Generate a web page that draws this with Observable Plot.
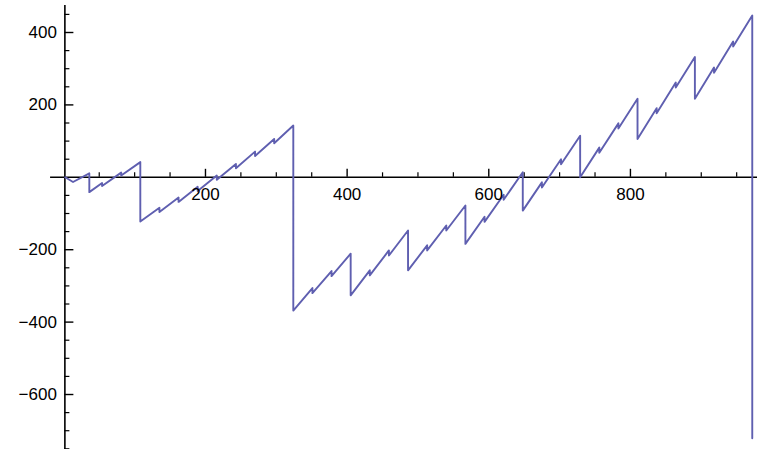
<!DOCTYPE html>
<html>
<head>
<meta charset="utf-8">
<script src="https://cdn.jsdelivr.net/npm/d3@7"></script>
<script src="https://cdn.jsdelivr.net/npm/@observablehq/plot@0.6"></script>
<style>
  html, body { margin: 0; padding: 0; background: #fff; }
</style>
</head>
<body>
<div id="chart"></div>
<script>
// Vertices of the sawtooth curve
const xs = [2,13,36,36,54,54,81,81,108,108,135,135,162,162,189,189,216,216,243,243,270,270,297,297,324,324,351,351,378,378,405,405,432,432,459,459,486,486,513,513,540,540,567,567,594,594,621,621,648,648,675,675,702,702,729,729,756,756,783,783,810,810,837,837,864,864,891,891,918,918,945,945,972,972];
const ys = [0,-13,11,-41,-16,-24,13,5,42,-122,-84,-96,-56,-68,-26,-38,5,-7,37,25,71,59,106,94,143,-368,-306,-320,-259,-273,-211,-326,-257,-271,-202,-216,-147,-257,-188,-202,-133,-147,-78,-184,-109,-123,-48,-62,14,-92,-14,-28,50,36,115,0,82,68,149,135,217,106,191,177,262,248,332,217,303,289,375,361,447,-721];

// Axis ticks
const xMajorTicks = [200, 400, 600, 800];
const xMinorTicks = [50, 100, 150, 250, 300, 350, 450, 500, 550, 650, 700, 750, 850, 900, 950];
const yMajorTicks = [-600, -400, -200, 200, 400];
const yMinorTicks = [-750, -700, -650, -550, -500, -450, -350, -300, -250, -150, -100, -50, 50, 100, 150, 250, 300, 350, 450];

const data = xs.map((x, i) => ({x, y: ys[i]}));

const AXIS_X = 1.5;         // where the vertical axis crosses (data units)
const PX_X = 0.7083;        // pixels per x unit
const PX_Y = 0.362;         // pixels per y unit
const fmt = d => d < 0 ? "\u2212" + Math.abs(d) : String(d);

const chart = Plot.plot({
  width: 757,
  height: 449,
  marginLeft: 0,
  marginRight: 0,
  marginTop: 0,
  marginBottom: 0,
  x: {domain: [-89.4, 979.4], range: [0, 757], axis: null},
  y: {domain: [-751.9, 488.4], range: [449, 0], axis: null},
  style: {fontFamily: "'Liberation Sans', Arial, sans-serif", background: "#fff"},
  marks: [
    // axes
    Plot.ruleY([0], {x1: -18.7, x2: 979.4, stroke: "#000", strokeWidth: 1.6}),
    Plot.ruleX([AXIS_X], {y1: -751.9, y2: 474.5, stroke: "#000", strokeWidth: 1.6}),
    // x ticks (pointing up)
    Plot.ruleX(xMajorTicks, {x: d => d, y1: 0, y2: 8 / PX_Y, stroke: "#000", strokeWidth: 1.4}),
    Plot.ruleX(xMinorTicks, {x: d => d, y1: 0, y2: 4.5 / PX_Y, stroke: "#000", strokeWidth: 1.2}),
    // y ticks (pointing right)
    Plot.ruleY(yMajorTicks, {y: d => d, x1: AXIS_X, x2: AXIS_X + 9 / PX_X, stroke: "#000", strokeWidth: 1.4}),
    Plot.ruleY(yMinorTicks, {y: d => d, x1: AXIS_X, x2: AXIS_X + 5 / PX_X, stroke: "#000", strokeWidth: 1.2}),
    // curve
    Plot.line(data, {x: "x", y: "y", stroke: "#5f5fb0", strokeWidth: 1.9, strokeLinejoin: "round"}),
    // tick labels
    Plot.text(xMajorTicks, {x: d => d, y: 0, dy: 17, text: fmt, fontSize: 17, fill: "#000"}),
    Plot.text(yMajorTicks, {x: AXIS_X, y: d => d, dx: -8, textAnchor: "end", text: fmt, fontSize: 17, fill: "#000"})
  ]
});

document.getElementById("chart").appendChild(chart);
</script>
</body>
</html>
